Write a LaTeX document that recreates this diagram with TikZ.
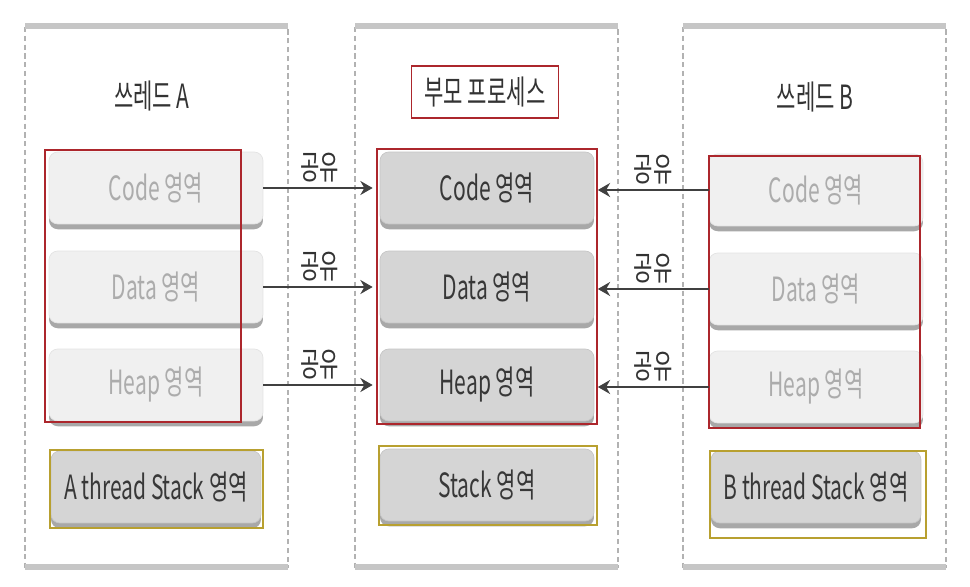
\documentclass[tikz,border=0pt]{standalone}
\usepackage{fontspec}
\setmainfont{Noto Sans CJK KR}[FakeStretch=0.63]
\usetikzlibrary{arrows.meta,shadows,fit}
\definecolor{frameRed}{RGB}{172,38,44}
\definecolor{frameOlive}{RGB}{184,160,48}
\tikzset{
  panelline/.style={draw=gray!60, densely dashed, line width=1.3pt},
  paneledge/.style={draw=gray!45, line width=3pt},
  title/.style={text=black!80, font=\fontsize{19}{22}\selectfont, inner sep=2pt},
  area/.style={rounded corners=5pt, minimum width=4.28cm, minimum height=1.44cm,
    draw=gray!22, fill=gray!12, text=gray!65, font=\fontsize{19}{22}\selectfont,
    drop shadow={shadow xshift=0pt, shadow yshift=-3pt, fill=gray!85, opacity=.8}},
  mainarea/.style={area, draw=gray!45, fill=gray!33, text=black!78},
  redframe/.style={draw=frameRed, line width=1pt},
  oliveframe/.style={draw=frameOlive, line width=1pt},
  share/.style={-{Stealth[length=7pt,width=8pt]}, draw=black!75, line width=0.9pt},
  shareText/.style={text=black!80, font=\fontsize{19}{22}\selectfont, inner sep=3pt}
}
\begin{document}
\begin{tikzpicture}[x=0.02cm, y=-0.02cm]
\fill[white] (0,0) rectangle (970,587);
\useasboundingbox (0,0) rectangle (970,587);
\foreach \l in {25,355,683}
{
  \draw[panelline] (\l,27) rectangle ++(263,540);
  \draw[paneledge] (\l,26) -- ++(263,0) (\l,567) -- ++(263,0);
}
\node[title] (titleA) at (152,96) {쓰레드 A};
\node[title, redframe, minimum width=2.94cm, minimum height=1.04cm] (titleP) at (485,92) {부모 프로세스};
\node[title] (titleB) at (815,97) {쓰레드 B};
\foreach \n/\y in {Code/188, Data/287, Heap/385}
{
  \node[area] (a\n) at (156,\y) {\n\ 영역};
  \node[mainarea] (p\n) at (487,\y) {\n\ 영역};
  \node[area] (b\n) at (816,\y+2) {\n\ 영역};
}
\node[mainarea, minimum width=4.2cm] (aStack) at (156,487) {A thread Stack 영역};
\node[mainarea] (pStack) at (487,485) {Stack 영역};
\node[mainarea, minimum width=4.2cm] (bStack) at (816,487) {B thread Stack 영역};
\draw[redframe] (45,150) rectangle (241,422);
\node[redframe, fit=(pCode)(pHeap), inner sep=1.5pt] (pFrame) {};
\draw[redframe] (709,156) rectangle (920,428);
\draw[oliveframe] (50,450) rectangle (263,528);
\draw[oliveframe] (379,446) rectangle (597,525);
\draw[oliveframe] (710,451) rectangle (926,538);
\foreach \n in {Code,Data,Heap}
{
  \draw[share, shorten >=2pt] (a\n.east) -- (a\n.east -| pFrame.west) node[midway, above, shareText] {공유};
  \draw[share] (b\n.west) -- (b\n.west -| pFrame.east) node[midway, above, shareText] {공유};
}
\end{tikzpicture}
\end{document}
